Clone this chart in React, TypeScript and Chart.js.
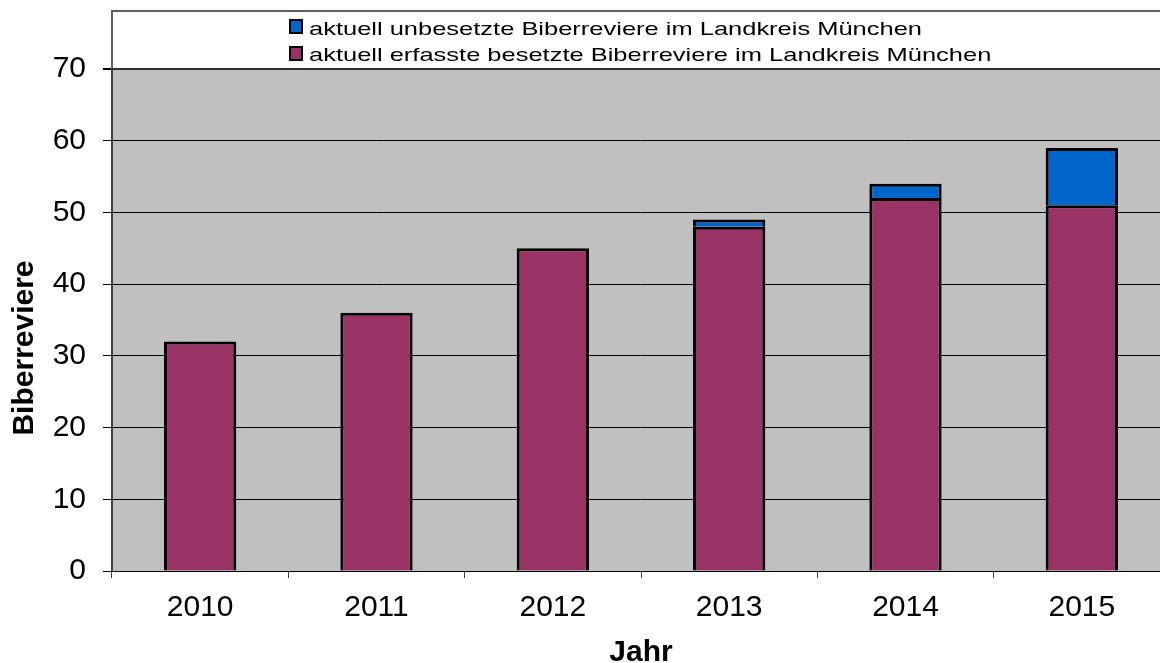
import React, { useEffect, useRef } from "react";
import { Chart, registerables } from "chart.js";
Chart.register(...registerables);

const years = ["2010", "2011", "2012", "2013", "2014", "2015"];
const occupied = [32, 36, 45, 48, 52, 51];
const unoccupied = [0, 0, 0, 1, 2, 8];
const yMin = 0;
const yMax = 70;
const yStep = 10;
const occupiedLabel = "aktuell erfasste besetzte Biberreviere im Landkreis München";
const unoccupiedLabel = "aktuell unbesetzte Biberreviere im Landkreis München";
const yTitle = "Biberreviere";
const xTitle = "Jahr";

const FONT = "Arial, 'Liberation Sans', sans-serif";

const decor = {
  id: "decor",
  beforeDraw(chart: any) {
    const { ctx, chartArea: a } = chart;
    ctx.save();
    ctx.fillStyle = "#c0c0c0";
    ctx.fillRect(a.left, a.top, a.right - a.left, a.bottom - a.top);
    ctx.restore();
  },
  afterDraw(chart: any) {
    const { ctx, chartArea: a } = chart;
    ctx.save();
    // legend frame
    ctx.strokeStyle = "#606060";
    ctx.lineWidth = 2;
    ctx.beginPath();
    ctx.moveTo(a.left - 1, 11);
    ctx.lineTo(chart.width, 11);
    ctx.stroke();
    ctx.beginPath();
    ctx.moveTo(a.left, 10);
    ctx.lineTo(a.left, a.top);
    ctx.stroke();
    ctx.strokeStyle = "#303030";
    ctx.beginPath();
    ctx.moveTo(a.left, a.top);
    ctx.lineTo(chart.width, a.top);
    ctx.stroke();

    // legend entries (reverse order)
    const ds = chart.data.datasets.slice().reverse();
    const rows = [
      { sq: 19, base: 35 },
      { sq: 46, base: 61 },
    ];
    ctx.font = `19px ${FONT}`;
    const w1 = ctx.measureText(ds[0].label).width;
    const sx = 613 / w1;
    ds.forEach((d: any, i: number) => {
      const r = rows[i];
      ctx.fillStyle = d.backgroundColor;
      ctx.fillRect(289, r.sq, 14, 15);
      ctx.strokeStyle = "#000";
      ctx.lineWidth = 2;
      ctx.strokeRect(290, r.sq + 1, 12, 13);
      ctx.save();
      ctx.translate(309, r.base);
      ctx.scale(sx, 1);
      ctx.fillStyle = "#000";
      ctx.textBaseline = "alphabetic";
      ctx.textAlign = "left";
      ctx.fillText(d.label, 0, 0);
      ctx.restore();
    });

    // axis titles
    ctx.fillStyle = "#000";
    ctx.font = `bold 30px ${FONT}`;
    ctx.textAlign = "center";
    ctx.textBaseline = "alphabetic";
    ctx.fillText(xTitle, (a.left + a.right) / 2, 661);
    ctx.save();
    ctx.translate(33, 348);
    ctx.rotate(-Math.PI / 2);
    ctx.fillText(yTitle, 0, 0);
    ctx.restore();
    ctx.restore();
  },
};

export default function App() {
  const ref = useRef<HTMLCanvasElement | null>(null);
  useEffect(() => {
    document.body.style.margin = "0";
    document.body.style.overflow = "hidden";
    const chart = new Chart(ref.current as HTMLCanvasElement, {
      type: "bar",
      data: {
        labels: years,
        datasets: [
          {
            label: occupiedLabel,
            data: occupied,
            backgroundColor: "#993366",
            borderColor: "#000000",
            borderWidth: 3,
            inflateAmount: 0,
            categoryPercentage: 1,
            barPercentage: 0.41,
          },
          {
            label: unoccupiedLabel,
            data: unoccupied,
            backgroundColor: "#0066cc",
            borderColor: "#000000",
            borderWidth: 3,
            inflateAmount: 0,
            categoryPercentage: 1,
            barPercentage: 0.41,
          },
        ],
      },
      options: {
        animation: false,
        responsive: false,
        devicePixelRatio: 1,
        layout: { padding: { left: 0, top: 69, right: 10, bottom: 0 } },
        plugins: {
          legend: { display: false },
          tooltip: { enabled: false },
          title: { display: false },
        },
        scales: {
          x: {
            stacked: true,
            offset: true,
            afterFit: (s: any) => {
              s.height = 92;
            },
            grid: {
              offset: true,
              drawOnChartArea: false,
              drawTicks: true,
              tickLength: 7,
              color: "#404040",
            },
            border: { display: true, color: "#000", width: 1 },
            ticks: {
              color: "#000",
              font: { family: FONT, size: 30 },
              padding: 12,
              maxRotation: 0,
            },
          },
          y: {
            stacked: true,
            min: yMin,
            max: yMax,
            afterFit: (s: any) => {
              s.width = 112;
            },
            grid: {
              color: "#000",
              lineWidth: (c: any) => (c.tick && c.tick.value === yMax ? 2 : 1),
              tickLength: 9,
            },
            border: { display: true, color: "#404040", width: 2 },
            ticks: {
              stepSize: yStep,
              color: "#000",
              font: { family: FONT, size: 30 },
              padding: 17,
            },
          },
        },
      },
      plugins: [decor],
    } as any);
    return () => chart.destroy();
  }, []);
  return (
    <div style={{ position: "fixed", left: 0, top: 0, width: 1160, height: 663, overflow: "hidden", background: "#fff" }}>
      <canvas ref={ref} width={1180} height={663} style={{ display: "block" }} />
    </div>
  );
}
